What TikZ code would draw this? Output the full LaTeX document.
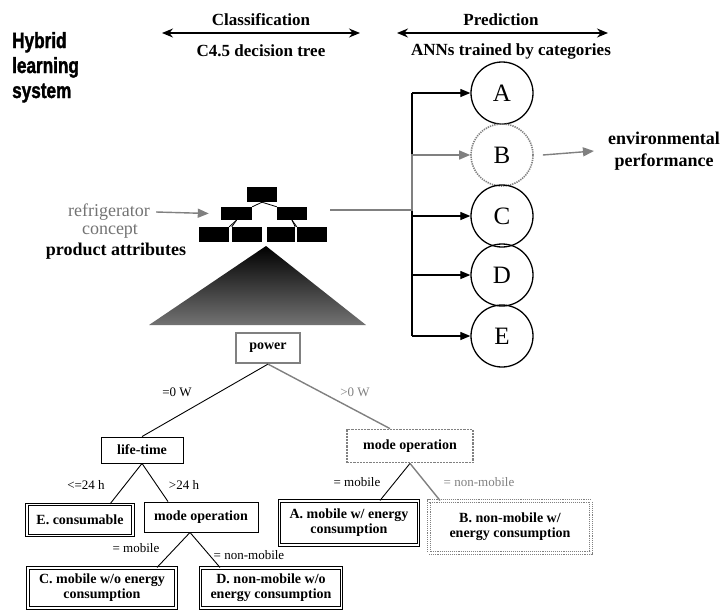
\documentclass[tikz,border=0pt]{standalone}
\usepackage{fontspec}
\setmainfont{Liberation Serif}
\newfontfamily\headfont[FakeStretch=0.78,FakeBold=1.5]{Liberation Sans}
\usetikzlibrary{arrows.meta}
\newcommand\setfs[2]{\fontsize{#1}{#2}\selectfont}

\begin{document}
\begin{tikzpicture}[x=1pt,y=-1pt,
  plainline/.style={draw=black, line width=0.9pt},
  hlline/.style={draw=black!50, line width=1.4pt},
  busarrow/.style={draw=black, line width=1.2pt, -{Triangle[length=10pt,width=8pt]}},
  hlarrow/.style={draw=black!50, line width=1.4pt, -{Triangle[length=11pt,width=9pt,fill=black!50]}},
  spanarrow/.style={draw=black, line width=1.4pt, {Stealth[length=11pt,width=9pt]}-{Stealth[length=11pt,width=9pt]}},
  toplabel/.style={inner sep=0pt, font=\setfs{17}{19}\bfseries},
  ann/.style={circle, draw=black, line width=1.3pt, minimum size=62pt, inner sep=0pt, font=\setfs{25}{25}},
  treebox/.style={rectangle, align=center, inner sep=0pt, font=\setfs{14}{15}\bfseries},
  leafbox/.style={treebox, draw=black, line width=1.1pt, double, double distance=1.2pt},
  splitbox/.style={treebox, draw=black, line width=0.9pt},
  hlbox/.style={treebox, draw=black!50, line width=2.2pt},
  hlleaf/.style={treebox, draw=black!50, line width=1.1pt, double, double distance=1.2pt, densely dotted},
  edgelabel/.style={inner sep=0pt, font=\setfs{13}{14}},
  iconbox/.style={rectangle, fill=black, inner sep=0pt},
  iconline/.style={draw=black, line width=0.8pt}
]
\useasboundingbox (0,0) rectangle (720,611);

% title
\node[anchor=base west, inner sep=0pt, font=\headfont\bfseries\setfs{22}{25}] (t1) at (12,48) {Hybrid};
\node[anchor=base west, inner sep=0pt, font=\headfont\bfseries\setfs{22}{25}] (t2) at (12,73) {learning};
\node[anchor=base west, inner sep=0pt, font=\headfont\bfseries\setfs{22}{25}] (t3) at (12,98) {system};

% stage headers
\node[toplabel] (cls) at (261,20) {Classification};
\node[toplabel] (c45) at (261,51) {C4.5 decision tree};
\coordinate (clsL) at (162,33);
\coordinate (clsR) at (360,33);
\draw[spanarrow] (clsL) -- (clsR);

\node[toplabel] (pred) at (501,20) {Prediction};
\node[toplabel] (anns) at (511,51) {ANNs trained by categories};
\coordinate (predL) at (397,33);
\coordinate (predR) at (608,33);
\draw[spanarrow] (predL) -- (predR);

% decision tree icon
\node[iconbox, minimum width=30pt, minimum height=15pt] (i1) at (262,194.5) {};
\node[iconbox, minimum width=31pt, minimum height=13pt] (i2) at (236.5,213.5) {};
\node[iconbox, minimum width=30pt, minimum height=13pt] (i3) at (292,213.5) {};
\node[iconbox, minimum width=30pt, minimum height=15pt] (i4) at (214,234.5) {};
\node[iconbox, minimum width=30pt, minimum height=15pt] (i5) at (247,234.5) {};
\node[iconbox, minimum width=28pt, minimum height=15pt] (i6) at (281,234.5) {};
\node[iconbox, minimum width=30pt, minimum height=15pt] (i7) at (312,234.5) {};
\draw[iconline] (i1.south) -- (i2.north east);
\draw[iconline] (i1.south) -- (i3.north west);
\draw[iconline] (i2.south) -- (i4.north east);
\draw[iconline] (i2.south) -- (i5.north west);
\draw[iconline] (i3.south) -- (i6.north east);
\draw[iconline] (i3.south) -- (i7.north west);

% grown tree
\shade[top color=black, bottom color=black!55] (266,246) -- (366,325) -- (149,325) -- cycle;

% input
\node[inner sep=0pt, text=black!55, font=\setfs{18}{20}] (fridge) at (109,212) {refrigerator};
\node[inner sep=0pt, text=black!55, font=\setfs{18}{20}] (concept) at (110,231) {concept};
\node[inner sep=0pt, font=\setfs{18}{20}\bfseries] (attrs) at (116,251) {product attributes};
\draw[hlarrow] ([xshift=6pt]fridge.east) -- ([xshift=-12pt]i2.west);

% ANN modules
\node[ann] (A) at (502,93) {A};
\node[ann, draw=black!50, densely dotted, line width=1.6pt] (B) at (502,155) {B};
\node[ann] (C) at (502,216) {C};
\node[ann] (D) at (502,275) {D};
\node[ann] (E) at (502,336) {E};

\coordinate (bus) at (412,0);
\coordinate (treeout) at (330,210);
\draw[draw=black, line width=1.2pt] (A.west -| bus) -- (E.west -| bus);
\draw[busarrow] (A.west -| bus) -- (A.west);
\draw[busarrow] (C.west -| bus) -- (C.west);
\draw[busarrow] (D.west -| bus) -- (D.west);
\draw[busarrow] (E.west -| bus) -- (E.west);
\draw[hlarrow] (treeout) -| (B.west -| bus) -- (B.west);

\node[inner sep=0pt, align=center, font=\setfs{18}{22}\bfseries] (env) at (664,151) {environmental\\performance};
\draw[hlarrow] ([xshift=9pt]B.east) -- ([xshift=-14pt]env.west);

% decision tree detail
\node[hlbox, minimum width=64pt, minimum height=30pt] (power) at (268,348) {power};
\node[splitbox, minimum width=82pt, minimum height=26pt] (lifetime) at (142,450) {life-time};
\node[hlbox, densely dotted, line width=1.8pt, minimum width=126pt, minimum height=33pt] (modeR) at (410,446) {mode operation};
\node[leafbox, minimum width=106pt, minimum height=31pt] (Econs) at (80,520) {E. consumable};
\node[splitbox, minimum width=114pt, minimum height=30pt] (modeL) at (201,517) {mode operation};
\node[leafbox, minimum width=148pt, minimum height=40pt] (Cleaf) at (102,588) {C. mobile w/o energy\\consumption};
\node[leafbox, minimum width=141pt, minimum height=40pt] (Dleaf) at (271,588) {D. non-mobile w/o\\energy consumption};
\node[leafbox, minimum width=139pt, minimum height=44pt] (Aleaf) at (349,523) {A. mobile w/ energy\\consumption};
\node[hlleaf, minimum width=162pt, minimum height=52pt] (Bleaf) at (510,527) {B. non-mobile w/\\energy consumption};

\draw[plainline] (power.south) -- (lifetime.north);
\draw[hlline] (power.south) -- ([xshift=-20pt]modeR.north);
\draw[plainline] (lifetime.south) -- ([xshift=30pt]Econs.north);
\draw[plainline] (lifetime.south) -- ([xshift=-33pt]modeL.north);
\draw[plainline] ([xshift=-11pt]modeL.south) -- ([xshift=55pt]Cleaf.north);
\draw[plainline] ([xshift=-11pt]modeL.south) -- ([xshift=-51pt]Dleaf.north);
\draw[plainline] (modeR.south) -- ([xshift=31pt]Aleaf.north);
\draw[hlline] (modeR.south) -- ([xshift=-70pt]Bleaf.north);

\node[edgelabel] (lz) at (177,392) {=0 W};
\node[edgelabel, text=black!50] (lp) at (355,392) {>0 W};
\node[edgelabel] (lle) at (86,485) {<=24 h};
\node[edgelabel] (lgt) at (184,485) {>24 h};
\node[edgelabel] (lmobL) at (136,548) {= mobile};
\node[edgelabel] (lnonL) at (249,555) {= non-mobile};
\node[edgelabel] (lmobR) at (357,482) {= mobile};
\node[edgelabel, text=black!50] (lnonR) at (479,482) {= non-mobile};
\end{tikzpicture}
\end{document}
